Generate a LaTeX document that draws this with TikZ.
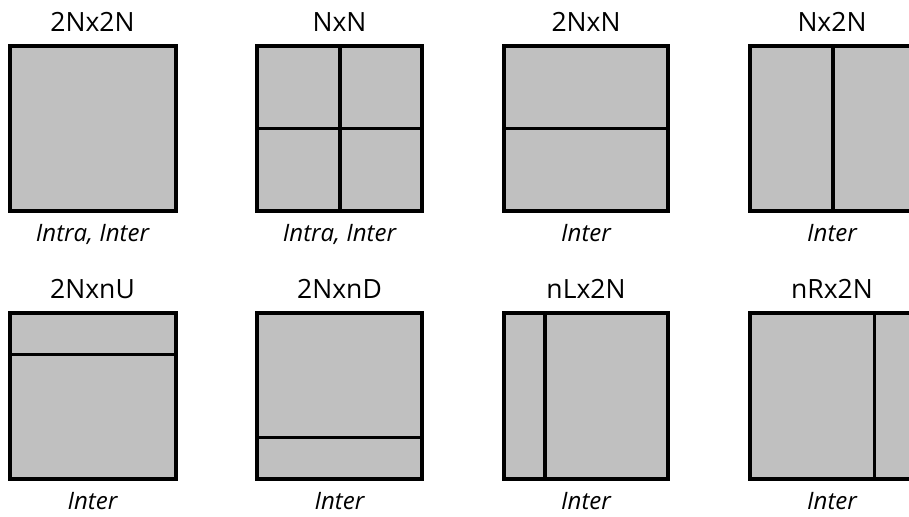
\documentclass[tikz,border=0pt]{standalone}
\usepackage{fontspec}
\setmainfont{Open Sans}
\begin{document}
\begin{tikzpicture}[x=1pt,y=-1pt,
  part/.style={draw=black,fill=partgray,line width=3.3pt},
  divider/.style={draw=black,line width=3.3pt},
  title/.style={anchor=base,inner sep=0pt,font=\fontsize{26.5}{30}\selectfont},
  usage/.style={anchor=base,inner sep=0pt,font=\fontsize{24}{28}\selectfont\itshape}]
\definecolor{partgray}{RGB}{192,192,192}
\useasboundingbox (0,0) rectangle (909,516);
\clip (0,0) rectangle (909,516);
% row 1
\path[part] (10,46) rectangle (176,211);
\path[part] (257,46) rectangle (422,211);
\draw[divider] (340,46) -- (340,211);
\draw[divider] (257,128.5) -- (422,128.5);
\path[part] (504,46) rectangle (668,211);
\draw[divider] (504,128.5) -- (668,128.5);
\path[part] (750,46) rectangle (916,211);
\draw[divider] (833,46) -- (833,211);
% row 2
\path[part] (10,313) rectangle (176,479);
\draw[divider] (10,354.5) -- (176,354.5);
\path[part] (257,313) rectangle (422,479);
\draw[divider] (257,437.5) -- (422,437.5);
\path[part] (504,313) rectangle (668,479);
\draw[divider] (545,313) -- (545,479);
\path[part] (750,313) rectangle (916,479);
\draw[divider] (874.5,313) -- (874.5,479);
% titles
\node[title] (t1) at (92.5,32) {2Nx2N};
\node[title] (t2) at (339.5,32) {NxN};
\node[title] (t3) at (586,32) {2NxN};
\node[title] (t4) at (832,32) {Nx2N};
\node[title] (t5) at (92.5,298) {2NxnU};
\node[title] (t6) at (339.5,298) {2NxnD};
\node[title] (t7) at (586,298) {nLx2N};
\node[title] (t8) at (832,298) {nRx2N};
% usage labels
\node[usage] (u1) at (92.5,241) {Intra, Inter};
\node[usage] (u2) at (339.5,241) {Intra, Inter};
\node[usage] (u3) at (586,241) {Inter};
\node[usage] (u4) at (832,241) {Inter};
\node[usage] (u5) at (92.5,509) {Inter};
\node[usage] (u6) at (339.5,509) {Inter};
\node[usage] (u7) at (586,509) {Inter};
\node[usage] (u8) at (832,509) {Inter};
\end{tikzpicture}
\end{document}
